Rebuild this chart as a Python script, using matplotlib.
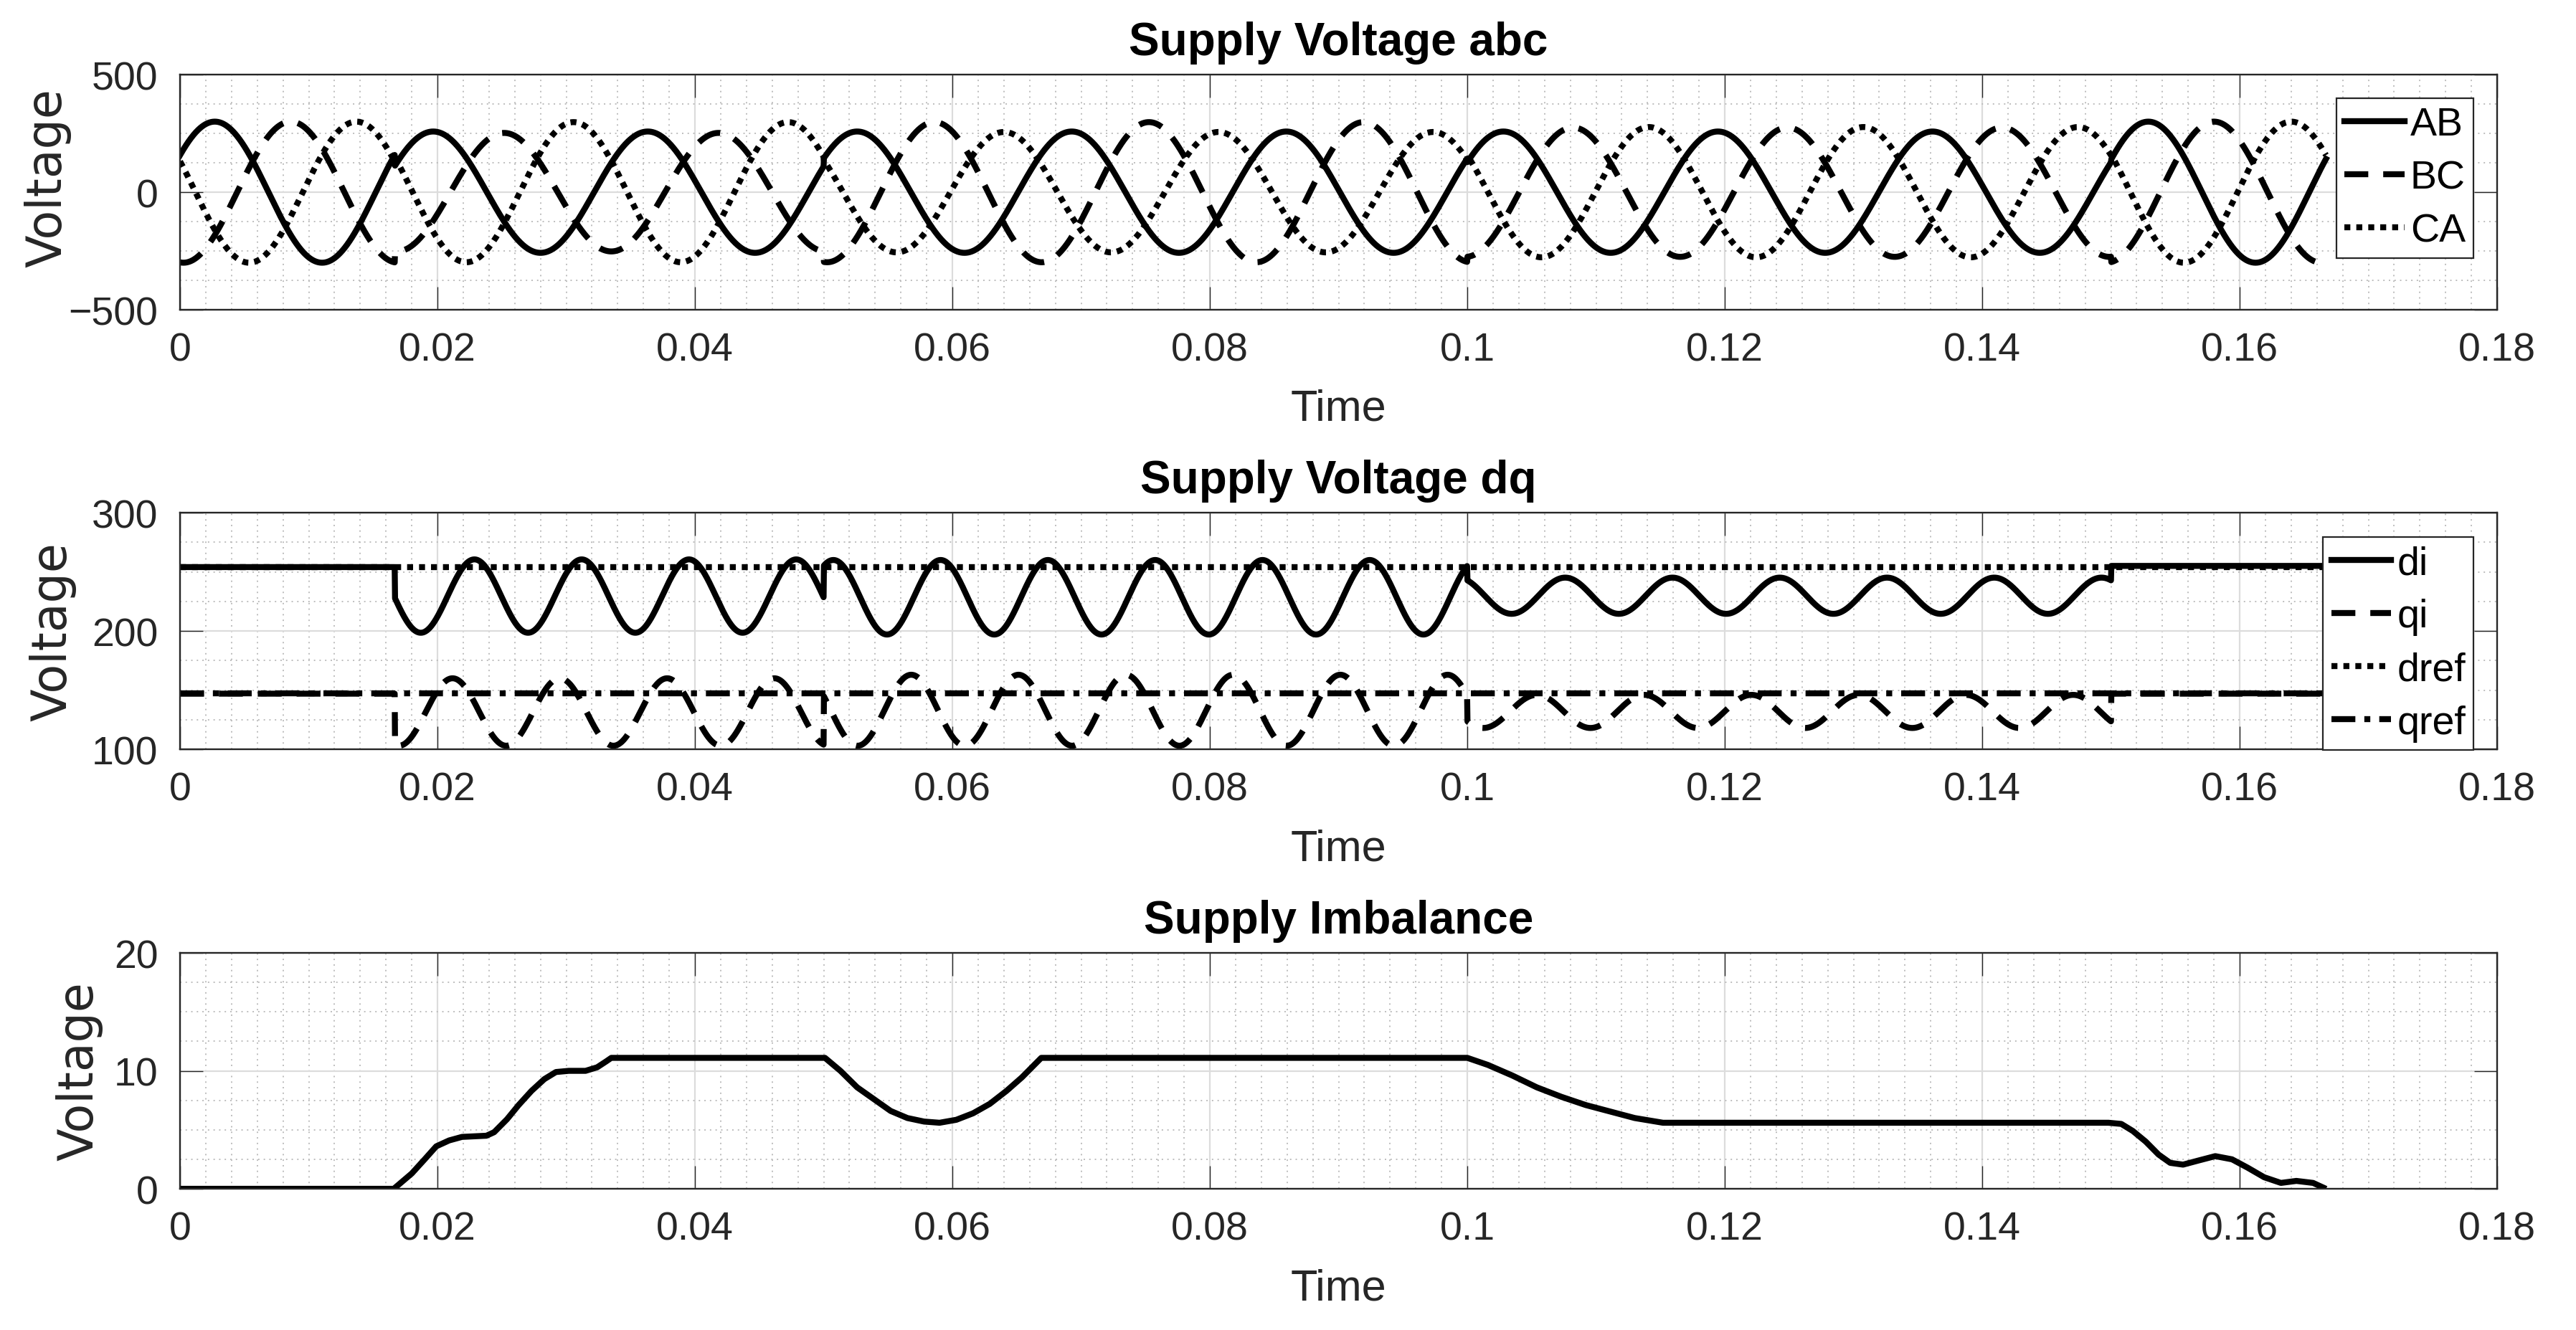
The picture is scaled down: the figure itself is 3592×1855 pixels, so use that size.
import numpy as np
import matplotlib
matplotlib.use("Agg")
import matplotlib.pyplot as plt
from matplotlib.ticker import MultipleLocator, FuncFormatter

plt.rcParams["font.family"] = ["Liberation Sans", "DejaVu Sans"]

# ---- data -------------------------------------------------------------
# supply condition changes at these times (s); signals end at t_end
seg_start = [0.0, 0.0167, 0.05, 0.1, 0.15]
t_end = 0.1667
f_line = 60.0    # supply frequency, Hz
f_ripple = 120.0 # dq ripple under imbalance, Hz

# line-to-line voltages: peak value (V) and time of the peak inside a cycle (s)
ab_amp = [300, 258, 258, 258, 300]
ab_tpk = [0.0027, 0.0030, 0.0026, 0.0028, 0.0029]
bc_amp = [300, 252, 298, 275, 300]
bc_tpk = [0.0086, 0.0085, 0.0086, 0.0082, 0.0080]
ca_amp = [300, 298, 256, 277, 300]
ca_tpk = [0.0137, 0.0139, 0.0140, 0.0141, 0.0140]

# dq components: mean level, ripple peak, ripple peak time (s)
d_mean = [254, 229.5, 228.5, 229.8, 255]
d_ripple = [0, 31, 31.5, 15.3, 0]
d_tpk = [0, 0.0062, 0.00075, 0.0076, 0]
q_mean = [147, 131.5, 133, 132, 147]
q_ripple = [0, 28.5, 30, 14, 0]
q_tpk = [0, 0.0045, 0.0068, 0.0054, 0]
d_ref = 254
q_ref = 147

# supply imbalance trace (time s, voltage)
imb_t = [0.0, 0.0166, 0.0180, 0.0190, 0.0199, 0.0209, 0.0219, 0.0238, 0.0244,
         0.0254, 0.0263, 0.0273, 0.0283, 0.0292, 0.0302, 0.0315, 0.0324, 0.0331,
         0.0335, 0.0501, 0.0513, 0.0526, 0.0539, 0.0552, 0.0565, 0.0578, 0.0590,
         0.0603, 0.0616, 0.0629, 0.0642, 0.0654, 0.0669, 0.1000, 0.1016, 0.1035,
         0.1054, 0.1073, 0.1092, 0.1111, 0.1130, 0.1152, 0.1498, 0.1508, 0.1517,
         0.1527, 0.1537, 0.1546, 0.1556, 0.1568, 0.1581, 0.1594, 0.1606, 0.1619,
         0.1632, 0.1644, 0.1657, 0.1665]
imb_v = [0.0, 0.0, 1.3, 2.5, 3.6, 4.1, 4.4, 4.5, 4.8,
         5.9, 7.1, 8.3, 9.3, 9.9, 10.0, 10.0, 10.3, 10.8,
         11.1, 11.1, 10.0, 8.6, 7.6, 6.6, 6.0, 5.7, 5.6,
         5.85, 6.4, 7.2, 8.3, 9.45, 11.1, 11.1, 10.5, 9.6,
         8.6, 7.8, 7.1, 6.55, 6.0, 5.6, 5.6, 5.5, 4.9,
         4.0, 2.9, 2.2, 2.05, 2.4, 2.77, 2.5, 1.8, 0.98,
         0.5, 0.67, 0.5, 0.1]

x_ticks = [0, 0.02, 0.04, 0.06, 0.08, 0.1, 0.12, 0.14, 0.16, 0.18]

DARK = "#262626"


def piecewise_wave(t, mean, amp, tpk, freq):
    idx = np.searchsorted(seg_start, t, side="right") - 1
    out = np.zeros_like(t)
    for k in range(len(seg_start)):
        m = idx == k
        out[m] = mean[k] + amp[k] * np.cos(2 * np.pi * freq * (t[m] - tpk[k]))
    return out


def style_axes(ax, ylim, yticks, yminor, title, label_x, label_y=0.5):
    ax.set_xlim(0, 0.18)
    ax.set_ylim(*ylim)
    ax.set_xticks(x_ticks)
    ax.xaxis.set_major_formatter(FuncFormatter(lambda v, p: f"{v:g}"))
    ax.xaxis.set_minor_locator(MultipleLocator(0.002))
    ax.set_yticks(yticks)
    ax.yaxis.set_minor_locator(MultipleLocator(yminor))
    ax.set_axisbelow(True)
    ax.grid(True, which="minor", color="#bdbdbd", lw=0.7, ls=(0, (1, 3)))
    ax.grid(True, which="major", color="#dcdcdc", lw=0.8, ls="-")
    ax.tick_params(which="major", direction="in", length=11.5, width=0.5,
                   color=DARK, top=True, right=True, labelsize=20,
                   labelcolor=DARK, pad=11)
    ax.tick_params(which="minor", length=0)
    for s in ax.spines.values():
        s.set_color(DARK)
        s.set_linewidth(0.85)
    ax.set_title(title, fontsize=23, fontweight="bold", pad=10)
    ax.set_xlabel("Time", fontsize=22, color=DARK)
    ax.xaxis.set_label_coords(0.5, -0.335)
    ax.set_ylabel("Voltage", fontsize=24, color=DARK, family="DejaVu Sans")
    ax.yaxis.set_label_coords(label_x, label_y)


def add_legend(ax, anchor):
    leg = ax.legend(loc="upper right", bbox_to_anchor=anchor, borderaxespad=0,
                    fontsize=20, handlelength=1.5, handletextpad=0.15,
                    labelspacing=0.4, borderpad=0.2, fancybox=False,
                    framealpha=1, edgecolor=DARK)
    leg.get_frame().set_linewidth(0.8)
    for txt in leg.get_texts():
        txt.set_color("black")


fig = plt.figure(figsize=(17.96, 9.28), dpi=200)
ax1 = fig.add_axes([0.0699, 0.7667, 0.8995, 0.1767])
ax2 = fig.add_axes([0.0699, 0.4364, 0.8995, 0.1778])
ax3 = fig.add_axes([0.0699, 0.1061, 0.8995, 0.1773])

t = np.linspace(0, t_end, 6000)
zeros = [0] * len(seg_start)
lw = 3.0

# ---- supply voltage abc -------------------------------------------------
ax1.plot(t, piecewise_wave(t, zeros, ab_amp, ab_tpk, f_line), color="black",
         lw=lw, ls="-", label="AB")
ax1.plot(t, piecewise_wave(t, zeros, bc_amp, bc_tpk, f_line), color="black",
         lw=lw, ls=(0, (4, 2.5)), label="BC")
ax1.plot(t, piecewise_wave(t, zeros, ca_amp, ca_tpk, f_line), color="black",
         lw=lw, ls=(0, (1, 1)), label="CA")
style_axes(ax1, (-500, 500), [-500, 0, 500], 125, "Supply Voltage abc",
           -0.047, 0.564)
add_legend(ax1, (0.9898, 0.899))

# ---- supply voltage dq --------------------------------------------------
ax2.plot(t, piecewise_wave(t, d_mean, d_ripple, d_tpk, f_ripple),
         color="black", lw=lw, ls="-", label="di")
ax2.plot(t, piecewise_wave(t, q_mean, q_ripple, q_tpk, f_ripple),
         color="black", lw=lw, ls=(0, (4, 2.5)), label="qi")
ax2.plot([0, t_end], [d_ref, d_ref], color="black", lw=lw, ls=(0, (1, 1)),
         label="dref")
ax2.plot([0, t_end], [q_ref, q_ref], color="black", lw=lw,
         ls=(0, (4, 1.5, 1, 1.5)), label="qref")
style_axes(ax2, (100, 300), [100, 200, 300], 25, "Supply Voltage dq", -0.0446)
add_legend(ax2, (0.9898, 0.897))

# ---- supply imbalance ---------------------------------------------------
ax3.plot(imb_t, imb_v, color="black", lw=lw, solid_joinstyle="round")
style_axes(ax3, (0, 20), [0, 10, 20], 2.5, "Supply Imbalance", -0.0333)

fig.savefig("out.png", dpi=200, facecolor="white")
